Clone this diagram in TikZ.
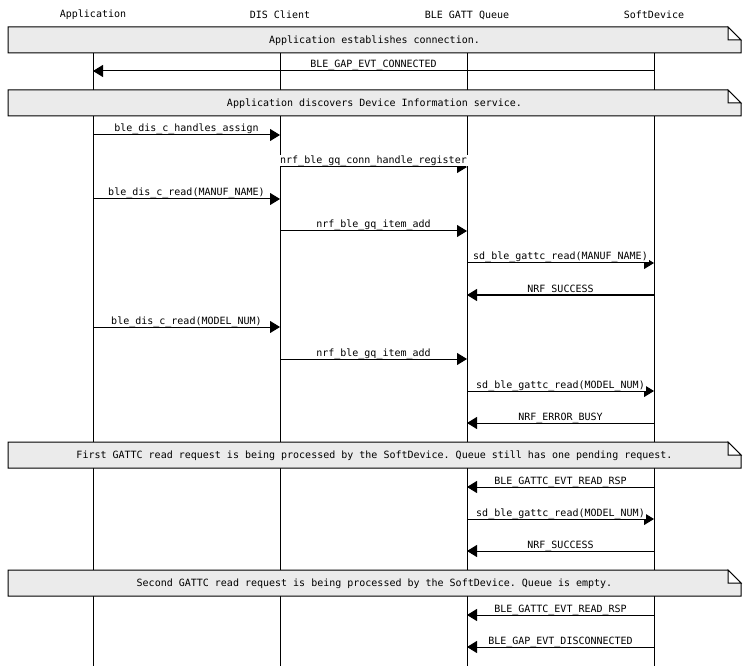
\documentclass[tikz,border=0pt]{standalone}
\usepackage{fontspec}
\setmonofont{DejaVu Sans Mono}
\usetikzlibrary{arrows.meta}
\newcommand{\mscfont}{\fontsize{10}{12}\selectfont\ttfamily}
\begin{document}
\begin{tikzpicture}[x=1pt,y=-1pt,
  lifeline/.style={line width=1pt},
  msg/.style={line width=1pt,-{Triangle[length=10pt,width=12pt]}},
  lbl/.style={font=\mscfont, fill=white, inner sep=1pt, text height=8pt, text depth=1.5pt, anchor=south},
  hdr/.style={font=\mscfont, inner sep=1pt},
  notebox/.style={fill=black!8, draw, line width=1pt, line join=miter},
  notefold/.style={fill=white, draw, line width=1pt},
  ntxt/.style={font=\mscfont, inner sep=1pt},
]
\useasboundingbox (0,0) rectangle (748,666);

% lifeline heads
\node[hdr] (app) at (93,15) {Application};
\node[hdr] (dis) at (280,15) {DIS Client};
\node[hdr] (gq)  at (467,15) {BLE GATT Queue};
\node[hdr] (sd)  at (654,15) {SoftDevice};

\coordinate (appT) at (93,27);  \coordinate (appB) at (93,666);
\coordinate (disT) at (280,27); \coordinate (disB) at (280,666);
\coordinate (gqT)  at (467,27); \coordinate (gqB)  at (467,666);
\coordinate (sdT)  at (654,27); \coordinate (sdB)  at (654,666);

\draw[lifeline] (appT) -- (appB);
\draw[lifeline] (disT) -- (disB);
\draw[lifeline] (gqT) -- (gqB);
\draw[lifeline] (sdT) -- (sdB);

% notes: #1 top y, #2 name, #3 text
\newcommand{\mscnote}[3]{%
  \path[notebox] (8,#1) -- (728,#1) -- (741,#1+13) -- (741,#1+26) -- (8,#1+26) -- cycle;
  \path[notefold] (728,#1) -- (741,#1+13) -- (728,#1+13) -- cycle;
  \node[ntxt] (#2) at (374.5,#1+14) {#3};
}
\mscnote{27}{n1}{Application establishes connection.}
\mscnote{90}{n2}{Application discovers Device Information service.}
\mscnote{442}{n3}{First GATTC read request is being processed by the SoftDevice. Queue still has one pending request.}
\mscnote{570}{n4}{Second GATTC read request is being processed by the SoftDevice. Queue is empty.}

% messages: from, to, y, label
\newcommand{\mscmsg}[4]{%
  \draw[msg] (#1 |- 0,#3) -- (#2 |- 0,#3) node[midway,lbl] {#4};
}
\mscmsg{sd}{app}{71}{BLE\_GAP\_EVT\_CONNECTED}
\mscmsg{app}{dis}{135}{ble\_dis\_c\_handles\_assign}
\mscmsg{dis}{gq}{167}{nrf\_ble\_gq\_conn\_handle\_register}
\mscmsg{app}{dis}{199}{ble\_dis\_c\_read(MANUF\_NAME)}
\mscmsg{dis}{gq}{231}{nrf\_ble\_gq\_item\_add}
\mscmsg{gq}{sd}{263}{sd\_ble\_gattc\_read(MANUF\_NAME)}
\mscmsg{sd}{gq}{295}{NRF\_SUCCESS}
\mscmsg{app}{dis}{327}{ble\_dis\_c\_read(MODEL\_NUM)}
\mscmsg{dis}{gq}{359}{nrf\_ble\_gq\_item\_add}
\mscmsg{gq}{sd}{391}{sd\_ble\_gattc\_read(MODEL\_NUM)}
\mscmsg{sd}{gq}{423}{NRF\_ERROR\_BUSY}
\mscmsg{sd}{gq}{487}{BLE\_GATTC\_EVT\_READ\_RSP}
\mscmsg{gq}{sd}{519}{sd\_ble\_gattc\_read(MODEL\_NUM)}
\mscmsg{sd}{gq}{551}{NRF\_SUCCESS}
\mscmsg{sd}{gq}{615}{BLE\_GATTC\_EVT\_READ\_RSP}
\mscmsg{sd}{gq}{647}{BLE\_GAP\_EVT\_DISCONNECTED}
\end{tikzpicture}
\end{document}
